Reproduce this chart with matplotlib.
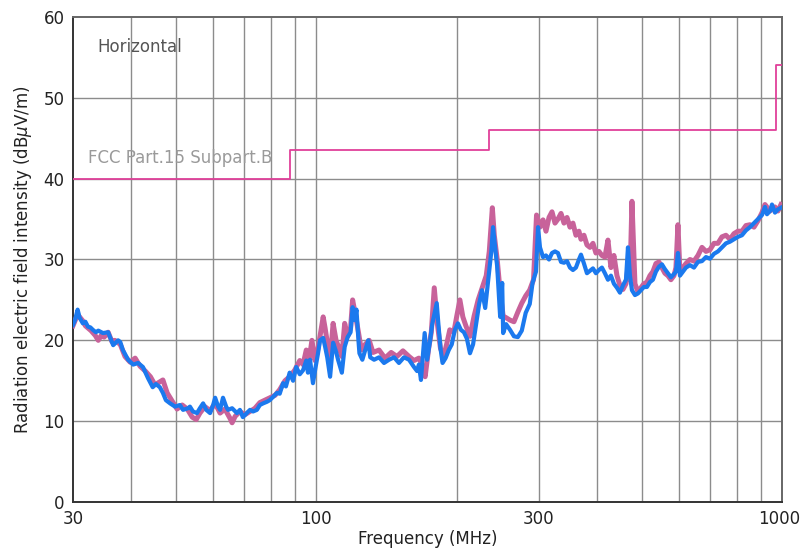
import matplotlib
matplotlib.use("Agg")
import matplotlib.pyplot as plt
import matplotlib.transforms as mtransforms
from matplotlib.ticker import FixedLocator, NullLocator, NullFormatter

# ---- measured traces (frequency in MHz, level in dBuV/m) ----
blue_freq = [
    30.0, 30.3, 30.7, 31.0, 31.5, 31.9, 32.3, 32.7, 33.1, 33.6, 34.0, 34.8, 35.7, 36.6,
    37.5, 37.9, 38.4, 39.4, 40.4, 41.4, 42.4, 43.5, 44.5, 45.2, 46.1, 46.8, 47.5, 48.5,
    49.7, 50.9, 51.7, 53.0, 53.5, 54.3, 55.4, 56.2, 57.1, 58.0, 59.1, 60.0, 60.6, 61.5,
    62.1, 63.0, 64.0, 64.6, 65.9, 67.5, 68.5, 69.5, 70.9, 72.0, 73.1, 74.5, 75.6, 76.8,
    78.3, 79.4, 80.7, 82.3, 83.4, 84.8, 86.0, 87.6, 89.1, 90.5, 92.1, 93.6, 95.1, 95.9,
    96.9, 98.3, 99.6, 100.8, 101.8, 103.4, 104.4, 105.5, 107.0, 108.6, 110.2, 111.3,
    113.4, 115.0, 116.7, 118.4, 119.6, 120.8, 121.9, 123.1, 123.7, 125.5, 127.3, 129.2,
    130.5, 133.0, 136.3, 139.7, 143.2, 146.8, 150.4, 154.2, 158.1, 162.0, 164.5, 166.0,
    167.7, 170.8, 172.9, 175.5, 177.3, 181.3, 182.8, 184.7, 186.6, 189.4, 192.4, 195.3,
    198.3, 201.3, 204.3, 207.4, 210.5, 213.7, 217.0, 220.3, 223.6, 226.8, 230.4, 233.9,
    237.5, 239.5, 242.1, 244.5, 246.9, 248.1, 250.6, 251.8, 255.5, 260.5, 265.6, 270.8,
    276.1, 281.5, 287.2, 291.2, 296.2, 299.2, 302.1, 306.7, 311.2, 315.9, 320.6, 325.4,
    330.2, 335.2, 340.2, 345.3, 350.4, 355.6, 360.9, 366.3, 370.0, 375.5, 381.1, 386.8,
    392.6, 398.4, 404.4, 410.4, 416.5, 422.8, 429.1, 435.5, 442.1, 448.6, 455.4, 462.2,
    466.8, 471.4, 476.1, 483.2, 490.4, 497.7, 505.1, 512.7, 520.3, 528.1, 536.0, 544.0,
    552.2, 560.4, 568.8, 577.3, 586.0, 591.8, 597.7, 603.6, 612.7, 621.9, 634.3, 647.0,
    659.9, 673.1, 686.5, 700.2, 714.2, 728.5, 743.0, 757.9, 773.0, 788.5, 804.2, 820.3,
    836.7, 853.4, 870.5, 887.9, 905.7, 919.2, 928.4, 942.2, 951.6, 965.8, 980.2, 994.8,
]
blue_level = [
    21.9, 22.5, 23.8, 22.8, 22.1, 22.3, 21.7, 21.6, 21.3, 21.0, 21.2, 20.9, 21.0, 19.4,
    20.0, 19.8, 18.8, 17.6, 17.0, 17.2, 16.7, 15.3, 14.2, 14.6, 14.2, 13.5, 12.6, 12.2,
    11.8, 12.0, 11.4, 11.6, 11.8, 11.2, 11.0, 11.6, 12.2, 11.4, 11.0, 12.0, 12.9, 11.8,
    11.4, 12.9, 11.8, 11.4, 11.6, 11.0, 11.4, 10.5, 11.0, 11.4, 11.2, 11.4, 12.0, 12.2,
    12.4, 12.6, 13.0, 13.5, 13.4, 14.7, 14.3, 16.0, 15.0, 16.7, 15.8, 16.3, 17.5, 16.0,
    17.6, 14.7, 16.7, 18.4, 20.0, 20.3, 19.2, 17.9, 15.5, 19.7, 18.6, 17.6,
    16.0, 19.2, 20.4, 21.0, 24.1, 22.5, 23.8, 20.0, 18.4, 17.6, 18.8, 20.0,
    17.9, 17.6, 17.9, 17.2, 17.6, 17.9, 17.2, 17.9, 17.6, 16.7, 16.2, 17.0,
    15.1, 20.9, 17.6, 20.0, 22.0, 24.6, 22.0, 19.0, 17.2, 17.8, 18.8, 19.5,
    21.3, 22.1, 21.3, 21.0, 20.2, 18.4, 19.5, 22.0, 24.5, 26.2, 24.0, 27.5,
    31.0, 34.0, 31.5, 29.1, 25.0, 22.9, 27.1, 20.9, 22.0, 21.3, 20.5, 20.4,
    21.2, 23.4, 24.5, 27.1, 28.5, 34.0, 31.5, 30.3, 30.5, 30.0, 30.8, 31.0,
    30.8, 29.7, 29.6, 29.8, 29.0, 28.7, 29.0, 30.0, 30.6, 29.5, 28.3, 28.6,
    28.9, 28.3, 28.7, 29.0, 28.3, 27.5, 28.0, 27.0, 26.5, 25.9, 26.8, 27.5,
    31.5, 28.0, 26.2, 25.6, 25.8, 26.2, 26.6, 26.6, 27.2, 27.5, 28.5, 29.1,
    29.4, 28.8, 28.3, 27.8, 28.2, 28.5, 30.8, 28.0, 28.5, 29.0, 29.3, 29.0,
    29.7, 29.8, 30.3, 30.1, 30.7, 31.0, 31.5, 32.0, 32.2, 32.5, 32.8, 33.0,
    33.6, 34.0, 34.5, 35.0, 35.5, 36.5, 35.6, 36.0, 36.8, 35.8, 36.2, 36.4,
]

pink_freq = [
    30.0, 30.7, 31.5, 31.9, 32.8, 33.5, 34.0, 34.5, 35.0, 35.7, 36.4, 36.9, 37.9, 38.8,
    39.8, 40.8, 41.8, 42.9, 44.0, 45.0, 46.8, 47.8, 49.0, 50.2, 51.5, 52.8, 54.1, 55.2,
    56.2, 57.6, 59.1, 60.6, 62.1, 63.6, 65.3, 65.9, 66.9, 68.5, 70.2, 72.0, 73.8, 75.6,
    77.5, 79.4, 81.5, 83.4, 85.6, 87.6, 89.8, 92.1, 93.6, 95.1, 96.4, 97.8, 99.3, 100.8,
    101.8, 103.4, 104.4, 106.0, 107.0, 108.6, 110.2, 111.9, 113.4, 115.0, 116.7, 118.4,
    119.6, 121.4, 123.1, 124.9, 127.3, 129.8, 132.3, 136.3, 140.4, 144.7, 148.9, 153.4,
    158.1, 162.0, 166.0, 168.5, 171.2, 174.2, 176.5, 179.1, 181.9, 184.7, 187.6, 190.4,
    193.4, 197.3, 200.2, 203.3, 206.3, 209.4, 213.7, 218.1, 222.5, 227.0, 231.6, 235.1,
    238.7, 241.0, 244.5, 248.1, 251.8, 255.5, 260.5, 265.6, 270.8, 276.1, 281.5, 287.0,
    292.6, 297.0, 302.1, 306.7, 311.2, 315.9, 320.6, 325.4, 330.2, 335.2, 340.2, 345.3,
    350.4, 355.6, 360.9, 366.3, 370.0, 375.5, 381.1, 386.8, 392.6, 398.4, 404.4, 410.4,
    416.5, 422.8, 429.1, 435.5, 442.1, 448.6, 455.4, 462.2, 466.8, 471.4, 476.1, 483.2,
    490.4, 497.7, 505.1, 512.7, 520.3, 528.1, 536.0, 544.0, 552.2, 560.4, 568.8, 577.3,
    586.0, 591.8, 597.7, 603.6, 612.7, 621.9, 634.3, 647.0, 659.9, 673.1, 686.5, 700.2,
    714.2, 728.5, 743.0, 757.9, 773.0, 788.5, 804.2, 820.3, 836.7, 853.4, 870.5, 887.9,
    905.7, 919.2, 942.2, 965.8, 980.2, 994.8,
]
pink_level = [
    21.8, 23.2, 22.4, 21.8, 21.2, 20.6, 20.0, 20.6, 20.4, 21.0, 19.8, 20.0, 19.5, 18.0,
    17.3, 17.8, 16.8, 16.2, 15.5, 14.5, 15.1, 13.5, 12.5, 11.5, 12.0, 11.5, 10.5, 10.2,
    11.0, 11.8, 11.3, 12.2, 11.0, 11.5, 10.3, 9.8, 10.6, 11.2, 10.8, 11.2, 11.6, 12.3,
    12.6, 12.9, 13.2, 13.9, 15.0, 15.5, 16.3, 17.5, 17.0, 18.8, 17.5, 20.0, 17.5, 19.0,
    20.5, 22.9, 21.5, 19.0, 17.5, 22.1, 20.0, 19.0, 18.0, 22.1, 20.5, 21.5,
    25.0, 23.0, 21.0, 18.8, 19.5, 20.0, 18.5, 18.8, 17.8, 18.5, 18.0, 18.7,
    18.0, 17.5, 17.8, 17.0, 15.5, 19.0, 21.0, 26.5, 22.0, 19.0, 18.0, 19.5,
    21.3, 21.0, 23.0, 25.0, 22.9, 21.8, 20.5, 23.0, 25.0, 26.5, 28.0, 31.0,
    36.4, 33.0, 30.0, 26.0, 23.0, 22.8, 22.5, 22.3, 23.5, 24.6, 25.5, 26.2,
    27.5, 35.5, 34.0, 34.9, 33.5, 35.2, 35.9, 34.5, 35.0, 35.7, 34.5, 35.2,
    34.0, 34.5, 33.0, 33.5, 32.5, 33.0, 31.8, 31.5, 32.0, 30.8, 31.0, 30.5,
    30.3, 32.4, 29.0, 30.5, 28.0, 26.8, 26.3, 27.0, 29.0, 27.5, 37.2, 27.0,
    26.0, 26.5, 27.0, 27.2, 28.0, 28.5, 29.5, 29.7, 29.0, 28.3, 28.0, 27.5,
    28.0, 29.0, 34.3, 28.5, 29.0, 29.5, 30.0, 29.8, 30.5, 31.5, 31.0, 31.2,
    32.0, 32.0, 32.8, 33.0, 32.5, 33.2, 33.5, 33.5, 34.2, 34.3, 34.0, 34.8,
    35.8, 36.8, 36.0, 36.5, 36.0, 36.8,
]

# FCC Part 15 Subpart B limit (step edges in MHz, limit in dBuV/m)
limit_freq = [30, 87.8, 235, 970, 1000]
limit_level = [40, 43.5, 46, 54, 54]

x_ticks = [30, 100, 300, 1000]
x_tick_labels = ["30", "100", "300", "1000"]
x_grid = [40, 50, 60, 70, 80, 90, 100, 200, 300, 400, 500, 600, 700, 800, 900]
y_ticks = [0, 10, 20, 30, 40, 50, 60]

fig = plt.figure(figsize=(8.01, 5.53), dpi=100)
ax = fig.add_axes([0.0911, 0.0922, 0.8852, 0.8771])

ax.set_xscale("log")
ax.set_xlim(30, 1000)
ax.set_ylim(0, 60)

ax.xaxis.set_major_locator(FixedLocator(x_ticks))
ax.set_xticklabels(x_tick_labels)
ax.xaxis.set_minor_locator(NullLocator())
ax.xaxis.set_minor_formatter(NullFormatter())
ax.set_yticks(y_ticks)

for f in x_grid:
    ax.axvline(f, color="#8c8c8c", lw=1.0, zorder=1)
for v in y_ticks[1:-1]:
    ax.axhline(v, color="#8c8c8c", lw=1.0, zorder=1)

ax.tick_params(axis="both", length=0, labelsize=12, colors="#222222", pad=6)

# keep the last frequency label inside the canvas
last = ax.get_xticklabels()[-1]
last.set_transform(last.get_transform() +
                   mtransforms.ScaledTranslation(-3 / 100, 0, fig.dpi_scale_trans))

for side in ["left", "bottom"]:
    ax.spines[side].set_color("#333333")
    ax.spines[side].set_linewidth(1.4)
for side in ["top", "right"]:
    ax.spines[side].set_color("#666666")
    ax.spines[side].set_linewidth(1.4)

ax.step(limit_freq, limit_level, where="post", color="#e0409a", lw=1.3, zorder=3)

ax.plot(pink_freq, pink_level, color="#c8629a", lw=3.6, solid_joinstyle="round", zorder=4)
ax.plot(blue_freq, blue_level, color="#1b79ee", lw=3.0, solid_joinstyle="round", zorder=5)

ax.text(33.8, 56.3, "Horizontal", fontsize=12, color="#555555", va="center", ha="left")
ax.text(32.3, 42.6, "FCC Part.15 Subpart.B", fontsize=12, color="#9a9a9a",
        va="center", ha="left", zorder=6)

ax.set_xlabel("Frequency (MHz)", fontsize=12, color="#222222", labelpad=1)
ax.set_ylabel(r"Radiation electric field intensity (dB$\mu$V/m)", fontsize=12,
              color="#222222", labelpad=7)

fig.savefig("out.png", dpi=100)
